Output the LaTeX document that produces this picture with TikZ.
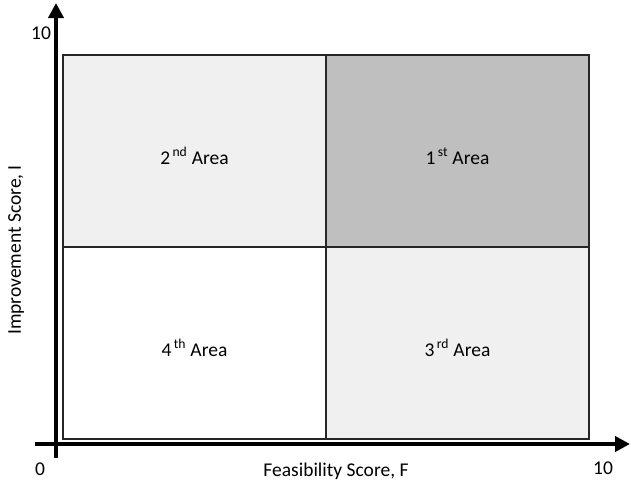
\documentclass[tikz,border=0pt]{standalone}
\usepackage{fontspec}
\setmainfont{Carlito}
\definecolor{PaleGray}{HTML}{F0F0F0}
\definecolor{MidGray}{HTML}{BFBFBF}
\usepackage{tikz}
\usetikzlibrary{arrows.meta}

\begin{document}
\begin{tikzpicture}[x=1pt, y=-1pt, font=\fontsize{19.5}{23}\selectfont,
    quad/.style={draw=black!85, line width=1.3pt, minimum width=263pt, minimum height=192pt, inner sep=0pt},
    areaname/.style={label={[yshift=-5pt]center:#1}},
    axis/.style={line width=4.5pt, -{Triangle[length=15pt,width=15pt]}}]
        \useasboundingbox (0,0) rectangle (631,490);

        % Quadrants
        \node[quad, fill=PaleGray, areaname={2\textsuperscript{\,nd} Area}] (second) at (194.5,151) {};
        \node[quad, fill=MidGray, areaname={1\textsuperscript{\,st} Area}] (first) at (457.5,151) {};
        \node[quad, fill=white, areaname={4\textsuperscript{\,th} Area}] (fourth) at (194.5,343) {};
        \node[quad, fill=PaleGray, areaname={3\textsuperscript{\,rd} Area}] (third) at (457.5,343) {};

        % Axes
        \coordinate (ybot) at (56,458);
        \coordinate (ytop) at (56,3);
        \coordinate (xleft) at (35,444);
        \coordinate (xright) at (630,444);
        \draw[axis] (ybot) -- (ytop);
        \draw[axis] (xleft) -- (xright);

        % Labels
        \node (ymax) at (41,33) {10};
        \node (zero) at (40,469) {0};
        \node (xmax) at (603,468) {10};
        \node (xlabel) at (336,471) {Feasibility Score, F};
        \node[rotate=90] (ylabel) at (16,250) {Improvement Score, I};
    \end{tikzpicture}
\end{document}
